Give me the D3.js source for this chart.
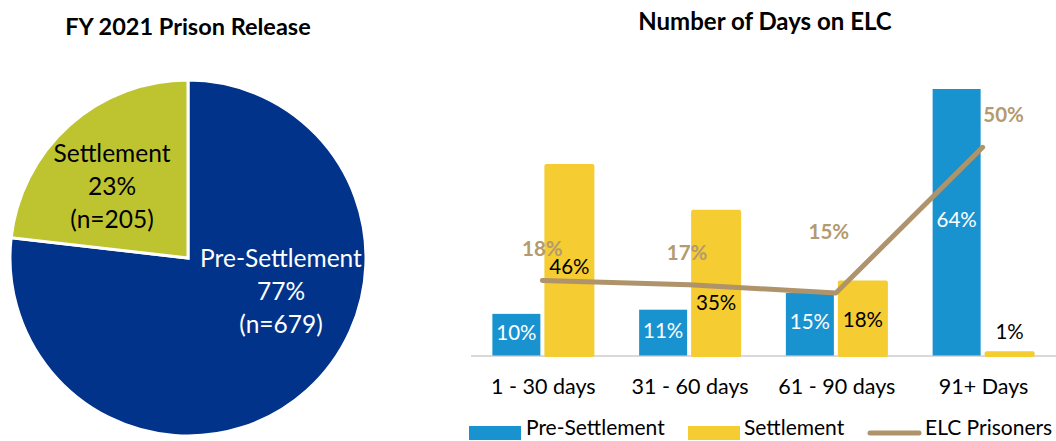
<!DOCTYPE html>
<html>
<head>
<meta charset="utf-8">
<script src="https://cdn.jsdelivr.net/npm/d3@7"></script>
<style>
  html, body { margin: 0; padding: 0; background: #fff; }
  svg { display: block; font-family: Lato, "Noto Sans", sans-serif; }
</style>
</head>
<body>
<svg id="chart" width="1056" height="441"></svg>
<script>
// Release population by supervision type
const releaseTypes = ["Pre-Settlement", "Settlement"];
const releaseCounts = [679, 205];
const releasePct = ["77%", "23%"];

// Days on ELC by category (percent of each group)
const dayCategories = ["1 - 30 days", "31 - 60 days", "61 - 90 days", "91+ Days"];
const preSettlement = [10, 11, 15, 64];
const settlement = [46, 35, 18, 1];
const elcPrisoners = [18, 17, 15, 50];

// Where the settlement and ELC value labels sit, in percent units
const settlementLabelAt = [21.3, 12.6, 8.5, 5.6];
const elcLabelAt = [25.6, 24.6, 29.6, 57.7];
const elcLabelShift = [0, -2, -7, 21];

const C = {
  navy: "#01338a", olive: "#bec42f",
  blue: "#1993d0", yellow: "#f5cc31", tan: "#af936b", tanText: "#b39a6f",
  axis: "#d9d9d9"
};

const svg = d3.select("#chart");

// ---------- Pie ----------
const pieG = svg.append("g").attr("transform", "translate(188,258)");
const radius = 178;
const pie = d3.pie().sort(null).value(d => d.count);
const arc = d3.arc().innerRadius(0).outerRadius(radius);
const pieData = releaseTypes.map((t, i) => ({ type: t, count: releaseCounts[i], pct: releasePct[i] }));
const arcs = pie(pieData);

pieG.selectAll("path").data(arcs).join("path")
  .attr("d", arc)
  .attr("fill", (d, i) => i === 0 ? C.navy : C.olive)
  .attr("stroke", "#fff").attr("stroke-width", 3).attr("stroke-linejoin", "miter");

const pieLabelPos = [[93, 33], [-76, -72]];
arcs.forEach((d, i) => {
  const [x, y] = pieLabelPos[i];
  const t = pieG.append("text")
    .attr("text-anchor", "middle")
    .attr("font-size", 24.5)
    .attr("fill", i === 0 ? "#fff" : "#000");
  const lines = [d.data.type, d.data.pct, `(n=${d.data.count})`];
  lines.forEach((s, k) => {
    t.append("tspan").attr("x", x).attr("y", y + (k - 1) * 33).attr("dy", "0.35em").text(s);
  });
});

svg.append("text")
  .attr("x", 188).attr("y", 27).attr("dy", "0.35em")
  .attr("text-anchor", "middle").attr("font-weight", 700).attr("font-size", 23.5)
  .text("FY 2021 Prison Release");

// ---------- Bar + line ----------
const baseY = 355.5;
const x0 = d3.scaleBand().domain(dayCategories).range([470, 1057]).paddingInner(0).paddingOuter(0);
const y = d3.scaleLinear().domain([0, 64]).range([baseY, 89]);
const barW = 48, gap = 4;
const center = c => x0(c) + x0.bandwidth() / 2 - 1;

svg.append("line")
  .attr("x1", 471).attr("x2", 1056).attr("y1", baseY + 0.5).attr("y2", baseY + 0.5)
  .attr("stroke", C.axis).attr("stroke-width", 2);

const groups = svg.append("g").selectAll("g").data(dayCategories).join("g");

groups.append("rect")
  .attr("x", (c) => center(c) - gap / 2 - barW)
  .attr("width", barW)
  .attr("y", (c, i) => y(preSettlement[i]))
  .attr("height", (c, i) => baseY - y(preSettlement[i]))
  .attr("fill", C.blue);

groups.append("rect")
  .attr("x", (c) => center(c) + gap / 2)
  .attr("width", barW + 2)
  .attr("y", (c, i) => y(settlement[i]))
  .attr("height", (c, i) => baseY - y(settlement[i]) + 1.5)
  .attr("rx", 2)
  .attr("fill", C.yellow);

// ELC line
const line = d3.line().x(d => center(d.c)).y(d => y(d.v));
svg.append("path")
  .datum(dayCategories.map((c, i) => ({ c, v: elcPrisoners[i] })))
  .attr("d", line)
  .attr("fill", "none").attr("stroke", C.tan).attr("stroke-width", 5)
  .attr("stroke-linecap", "round").attr("stroke-linejoin", "round");

// value labels
groups.append("text")
  .attr("x", c => center(c) - gap / 2 - barW / 2)
  .attr("y", (c, i) => (y(preSettlement[i]) + baseY) / 2 - 2)
  .attr("dy", "0.35em").attr("text-anchor", "middle")
  .attr("font-size", 20.5).attr("fill", "#fff")
  .text((c, i) => preSettlement[i] + "%");

groups.append("text")
  .attr("x", c => center(c) + gap / 2 + barW / 2 + 1)
  .attr("y", (c, i) => y(settlementLabelAt[i]))
  .attr("dy", "0.35em").attr("text-anchor", "middle")
  .attr("font-size", 20.5).attr("fill", "#000")
  .text((c, i) => settlement[i] + "%");

groups.append("text")
  .attr("x", (c, i) => center(c) + elcLabelShift[i])
  .attr("y", (c, i) => y(elcLabelAt[i]))
  .attr("dy", "0.35em").attr("text-anchor", "middle")
  .attr("font-size", 20.5).attr("font-weight", 700).attr("fill", C.tanText)
  .text((c, i) => elcPrisoners[i] + "%");

// category axis
const xAxis = svg.append("g")
  .attr("transform", `translate(0,${baseY})`)
  .call(d3.axisBottom(x0).tickSize(0).tickPadding(0));
xAxis.select(".domain").remove();
xAxis.selectAll("text")
  .attr("y", 31).attr("dy", "0.35em")
  .attr("font-family", "Lato, sans-serif").attr("font-size", 21.5).attr("fill", "#000");

svg.append("text")
  .attr("x", 765).attr("y", 22).attr("dy", "0.35em")
  .attr("text-anchor", "middle").attr("font-weight", 700).attr("font-size", 24)
  .text("Number of Days on ELC");

// legend
const legend = svg.append("g").attr("font-size", 21);
const legendItems = [
  { name: "Pre-Settlement", kind: "box", color: C.blue, x: 469, tx: 526 },
  { name: "Settlement", kind: "box", color: C.yellow, x: 688, tx: 744 },
  { name: "ELC Prisoners", kind: "line", color: C.tan, x: 867, tx: 925 }
];
legendItems.forEach(it => {
  if (it.kind === "box") {
    legend.append("rect").attr("x", it.x).attr("y", 426).attr("width", 52).attr("height", 14).attr("fill", it.color);
  } else {
    legend.append("line").attr("x1", it.x + 3).attr("x2", it.x + 52).attr("y1", 433).attr("y2", 433)
      .attr("stroke", it.color).attr("stroke-width", 5).attr("stroke-linecap", "round");
  }
  legend.append("text").attr("x", it.tx).attr("y", 428).attr("dy", "0.35em").text(it.name);
});
</script>
</body>
</html>
